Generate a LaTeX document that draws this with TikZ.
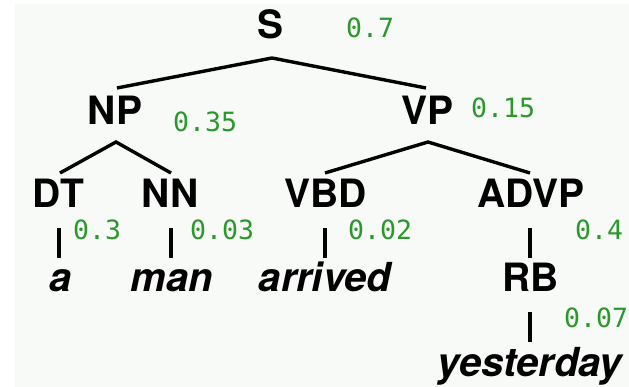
\documentclass[tikz,border=0pt]{standalone}
\usepackage{fontspec}
\setmainfont{TeX Gyre Heros}
\newfontfamily\probfont{DejaVu Sans Mono}
\definecolor{probgreen}{RGB}{42,152,42}
\definecolor{bgpaper}{RGB}{248,250,248}
\tikzset{
  cat/.style={anchor=base, inner sep=0pt, font=\fontsize{39}{40}\selectfont\bfseries},
  word/.style={anchor=base, inner sep=0pt, font=\fontsize{40}{41}\selectfont\bfseries\itshape},
  prob/.style={anchor=base west, inner sep=0pt, text=probgreen, font=\fontsize{26.5}{27}\selectfont\probfont},
  branch/.style={line width=3.4pt, line join=miter},
  stem/.style={line width=3.2pt}
}
\begin{document}
\begin{tikzpicture}[x=1pt,y=1pt]
\useasboundingbox (0,0) rectangle (629,-387);
\clip (0,0) rectangle (629,-387);
\fill[bgpaper] (15,-4) rectangle (629,-387);
% categories
\node[cat] (S) at (271,-39) {S};
\node[cat] (NP) at (115,-125) {NP};
\node[cat] (VP) at (427.5,-125) {VP};
\node[cat] (DT) at (58.5,-208) {DT};
\node[cat] (NN) at (170,-208) {NN};
\node[cat] (VBD) at (325.5,-208) {VBD};
\node[cat] (ADVP) at (531,-208) {ADVP};
\node[cat] (RB) at (530.5,-292) {RB};
% words
\node[word] (wa) at (61,-292) {a};
\node[word] (wman) at (172,-292) {man};
\node[word] (warrived) at (325,-292) {arrived};
\node[word] (wyesterday) at (530,-376) {yesterday};
% probabilities
\node[prob] (pS) at (346,-38) {0.7};
\node[prob] (pNP) at (173,-132) {0.35};
\node[prob] (pVP) at (471,-118) {0.15};
\node[prob] (pDT) at (73,-240) {0.3};
\node[prob] (pNN) at (190,-240) {0.03};
\node[prob] (pVBD) at (348,-240) {0.02};
\node[prob] (pADVP) at (575,-240) {0.4};
\node[prob] (pRB) at (564,-327) {0.07};
% branches
\draw[branch] ([xshift=2pt,yshift=37pt]NP.base) -- ([xshift=1pt,yshift=-19pt]S.base) -- ([xshift=-1.5pt,yshift=37pt]VP.base);
\draw[branch] ([xshift=1.5pt,yshift=35pt]DT.base) -- ([xshift=1pt,yshift=-17pt]NP.base) -- ([xshift=1pt,yshift=35pt]NN.base);
\draw[branch] ([xshift=-0.5pt,yshift=35pt]VBD.base) -- ([xshift=0.5pt,yshift=-17pt]VP.base) -- ([xshift=-1pt,yshift=35pt]ADVP.base);
% stems
\draw[stem] ([xshift=0.5pt,yshift=-20pt]DT.base) -- ([xshift=-2pt,yshift=34pt]wa.base);
\draw[stem] ([xshift=1pt,yshift=-20pt]NN.base) -- ([xshift=-1pt,yshift=34pt]wman.base);
\draw[stem] ([xshift=-0.5pt,yshift=-20pt]VBD.base) -- ([xshift=0pt,yshift=34pt]warrived.base);
\draw[stem] ([xshift=-1pt,yshift=-20pt]ADVP.base) -- ([xshift=-0.5pt,yshift=34pt]RB.base);
\draw[stem] ([xshift=-0.5pt,yshift=-20pt]RB.base) -- ([xshift=0pt,yshift=34pt]wyesterday.base);
\end{tikzpicture}
\end{document}
